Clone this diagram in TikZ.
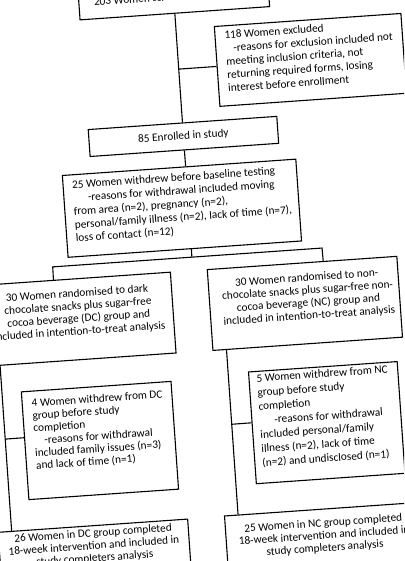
\documentclass[tikz,border=0pt]{standalone}
\usepackage{fontspec}
\setmainfont{Carlito}
\usetikzlibrary{calc}

\begin{document}
\begin{tikzpicture}[x=1pt,y=-1pt,
  box/.style={draw,line width=1.1pt,inner sep=0pt},
  txt/.style={inner sep=0pt,font=\fontsize{11.3}{#1}\selectfont},
  txt/.default=13]
  \useasboundingbox (0,0) rectangle (404,561);
  \clip (0,0) rectangle (404,561);
  \begin{scope}[rotate around={4:(202,280)},transform shape,line width=1.1pt]
  \node[box,txt,minimum width=190pt,minimum height=32pt] (scr) at (193.5,-4) {203 Women screened for eligibility};
  \node[box,minimum width=187pt,minimum height=80pt] (exc) at (325.5,68) {};
  \node[box,txt,minimum width=189pt,minimum height=27pt] (enr) at (193.5,135.5) {85 Enrolled in study};
  \node[box,minimum width=234pt,minimum height=82pt] (wbl) at (187,207) {};
  \node[box,minimum width=190pt,minimum height=81pt] (rdc) at (76,310.5) {};
  \node[box,minimum width=190pt,minimum height=81pt] (rnc) at (303,310.5) {};
  \node[box,minimum width=150pt,minimum height=108pt] (wdc) at (89,433) {};
  \node[box,minimum width=149pt,minimum height=112pt] (wnc) at (316.5,431) {};
  \node[box,minimum width=190pt,minimum height=60pt] (cdc) at (76,547.5) {};
  \node[box,minimum width=190pt,minimum height=60pt] (cnc) at (303,547) {};

  \node[txt=13.3,anchor=north west,align=left] (exct) at (241,32.4) {118 Women excluded\\
    \hspace*{8pt}-reasons for exclusion included not\\
    meeting inclusion criteria, not\\
    returning required forms, losing\\
    interest before enrollment};
  \node[txt=13.3,anchor=north west,align=left] (wblt) at (78.5,171.4) {25 Women withdrew before baseline testing\\
    \hspace*{15pt}-reasons for withdrawal included moving\\
    from area (n=2), pregnancy (n=2),\\
    personal/family illness (n=2), lack of time (n=7),\\
    loss of contact (n=12)};
  \node[txt=12.7,anchor=north,align=center] (rdct) at (76.4,279.7) {30 Women randomised to dark\\
    chocolate snacks plus sugar-free\\
    cocoa beverage (DC) group and\\
    included in intention-to-treat analysis};
  \node[txt=12.7,anchor=north,align=center] (rnct) at (306.6,280) {30 Women randomised to non-\\
    chocolate snacks plus sugar-free non-\\
    cocoa beverage (NC) group and\\
    included in intention-to-treat analysis};
  \node[txt=12.5,anchor=north west,align=left] (wdct) at (23,386.4) {4 Women withdrew from DC\\
    group before study\\
    completion\\
    \hspace*{10pt}-reasons for withdrawal\\
    included family issues (n=3)\\
    and lack of time (n=1)};
  \node[txt=14.1,anchor=north west,align=left] (wnct) at (249,377.2) {5 Women withdrew from NC\\
    group before study\\
    completion\\
    \hspace*{15pt}-reasons for withdrawal\\
    included personal/family\\
    illness (n=2), lack of time\\
    (n=2) and undisclosed (n=1)};
  \node[txt=12.5,anchor=north,align=center] (cdct) at (75.6,520.2) {26 Women in DC group completed\\
    18-week intervention and included in\\
    study completers analysis};
  \node[txt=12.5,anchor=north,align=center] (cnct) at (306,526) {25 Women in NC group completed\\
    18-week intervention and included in\\
    study completers analysis};

  \coordinate (j1) at (193.5,68);
  \coordinate (sp) at (193.5,256.5);
  \coordinate (spl) at (54,256.5);
  \coordinate (spr) at (324,256.5);
  \coordinate (jl) at (-5,425);
  \coordinate (jr) at (222,426);
  \draw (scr.south) -- (enr.north);
  \draw (j1) -- (exc.west);
  \draw (enr.south) -- ($(wbl.north west)!0.528!(wbl.north east)$);
  \draw ($(wbl.south west)!0.528!(wbl.south east)$) -- (sp);
  \draw ($(rdc.north west)!0.384!(rdc.north east)$) -- (spl) -- (spr) -- ($(rnc.north west)!0.611!(rnc.north east)$);
  \draw ($(rdc.south west)!0.074!(rdc.south east)$) -- ($(cdc.north west)!0.074!(cdc.north east)$);
  \draw (jl) -- ($(wdc.north west)!0.426!(wdc.south west)$);
  \draw ($(rnc.south west)!0.074!(rnc.south east)$) -- ($(cnc.north west)!0.074!(cnc.north east)$);
  \draw (jr) -- ($(wnc.north west)!0.455!(wnc.south west)$);
  \end{scope}
\end{tikzpicture}
\end{document}
